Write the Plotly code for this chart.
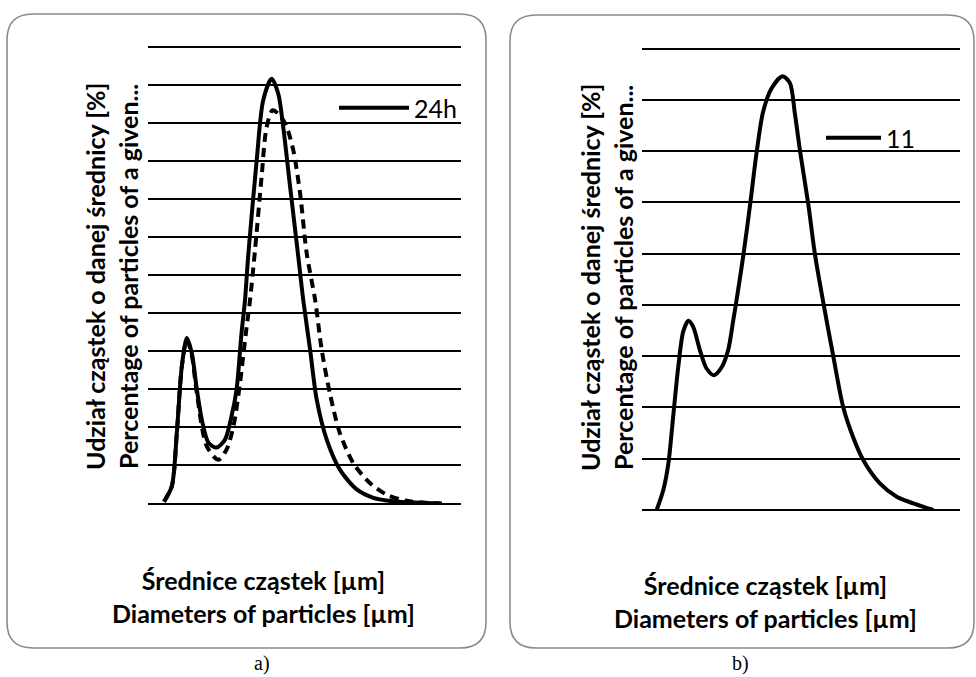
import plotly.graph_objects as go

W, H = 976, 677

# ---------------- data ----------------
# panel a) relative diameter positions (0-100 across the plot width) and percentages
a_solid_x = [5.1, 7.6, 9.2, 10.8, 12.4, 14.0, 15.6, 17.2, 19.3, 21.9, 24.6, 26.7, 28.3, 29.9,
             31.0, 32.0, 34.7, 36.8, 39.5, 41.6, 43.2, 45.4, 48.0, 49.6, 51.8, 53.9, 57.1,
             61.3, 66.7, 72.0, 78.3, 86.9, 93.9]
a_solid_y = [0.05, 0.45, 1.85, 3.6, 4.35, 3.95, 3.0, 2.2, 1.6, 1.47, 1.68, 2.3, 3.0, 4.5,
             5.35, 6.5, 9.0, 10.6, 11.17, 10.78, 9.9, 8.33, 6.5, 5.35, 4.04, 2.73, 1.68,
             0.89, 0.37, 0.15, 0.06, 0.02, 0.0]

a_dash_x = [5.1, 7.6, 9.2, 10.8, 12.4, 14.0, 15.6, 18.8, 22.5, 25.1, 27.3, 29.4, 31.3, 32.6,
            34.2, 36.3, 37.9, 39.8, 42.2, 44.3, 46.4, 48.6, 50.7, 53.4, 55.5, 58.1, 61.3,
            65.6, 70.9, 76.3, 82.7, 93.3]
a_dash_y = [0.05, 0.45, 1.85, 3.6, 4.3, 3.9, 2.9, 1.5, 1.15, 1.42, 2.03, 3.17, 4.5, 5.35,
            6.67, 8.6, 9.9, 10.34, 10.2, 9.9, 9.3, 8.15, 6.58, 5.35, 4.04, 2.9, 1.85,
            1.06, 0.54, 0.23, 0.07, 0.0]

# panel b)
b_x = [4.6, 6.7, 8.3, 9.8, 11.4, 13.0, 14.6, 16.1, 18.2, 20.3, 22.6, 25.1, 27.1, 28.7,
       30.0, 31.9, 34.0, 36.1, 38.1, 40.8, 44.2, 46.5, 48.1, 49.7, 52.3, 54.4, 57.0,
       60.2, 63.3, 66.4, 69.6, 74.8, 80.1, 85.3, 91.6]
b_y = [0.0, 0.39, 0.91, 1.82, 2.79, 3.49, 3.69, 3.57, 3.12, 2.76, 2.63, 2.79, 3.12, 3.70,
       4.2, 4.98, 5.96, 7.0, 7.77, 8.23, 8.46, 8.33, 7.72, 7.0, 5.96, 4.98, 4.05,
       2.98, 2.0, 1.42, 0.97, 0.52, 0.26, 0.13, 0.0]

a_legend = "24h"
b_legend = "11"
y_title = ["Udział cząstek o danej średnicy [%]", "Percentage of particles of a given..."]
x_title = ["Średnice cząstek [µm]", "Diameters of particles [µm]"]
captions = ["a)", "b)"]
a_ymax, b_ymax = 12, 9

# ---------------- figure ----------------
def px(x):
    return x / W

def py(y):
    return 1 - y / H

TITLE_FONT = dict(family="Lato, Open Sans, sans-serif", size=25, color="black")
LEG_FONT = dict(family="Lato, Open Sans, sans-serif", size=25, color="black")

fig = go.Figure()
line_w = 4
fig.add_trace(go.Scatter(x=a_solid_x, y=a_solid_y, mode="lines", name=a_legend,
                         line=dict(color="black", width=line_w, shape="spline", smoothing=0.8),
                         xaxis="x", yaxis="y", legend="legend"))
fig.add_trace(go.Scatter(x=a_dash_x, y=a_dash_y, mode="lines", name="48h", showlegend=False,
                         line=dict(color="black", width=line_w, dash="9px,6px",
                                   shape="spline", smoothing=0.8),
                         xaxis="x", yaxis="y"))
fig.add_trace(go.Scatter(x=b_x, y=b_y, mode="lines", name=b_legend,
                         line=dict(color="black", width=line_w, shape="spline", smoothing=0.8),
                         xaxis="x2", yaxis="y2", legend="legend2"))

grid = dict(showgrid=True, gridcolor="black", gridwidth=1.5, zeroline=True,
            zerolinecolor="black", zerolinewidth=1.5, showticklabels=False, ticks="",
            showline=False, dtick=1, tick0=0)
xax = dict(showgrid=False, zeroline=False, showticklabels=False, ticks="", showline=False,
           range=[0, 100])

EPS = 0.03
fig.update_layout(
    width=W, height=H,
    margin=dict(l=0, r=0, t=0, b=0),
    paper_bgcolor="white", plot_bgcolor="white",
    xaxis=dict(domain=[px(148), px(461)], anchor="y", **xax),
    yaxis=dict(domain=[py(503.5), py(46)], anchor="x", range=[0, a_ymax + EPS], **grid),
    xaxis2=dict(domain=[px(642), px(960)], anchor="y2", **xax),
    yaxis2=dict(domain=[py(510), py(47)], anchor="x2", range=[0, b_ymax + EPS], **grid),
    legend=dict(x=px(334), y=py(108), xanchor="left", yanchor="middle", itemwidth=70,
                bgcolor="rgba(0,0,0,0)", font=LEG_FONT, borderwidth=0),
    legend2=dict(x=px(821), y=py(138), xanchor="left", yanchor="middle", itemwidth=55,
                 bgcolor="rgba(0,0,0,0)", font=LEG_FONT, borderwidth=0),
    showlegend=True,
)

# rounded frames
def rounded_box(x0, y0, x1, y1, r):
    return (f"M {px(x0 + r)},{py(y0)} L {px(x1 - r)},{py(y0)} "
            f"Q {px(x1)},{py(y0)} {px(x1)},{py(y0 + r)} L {px(x1)},{py(y1 - r)} "
            f"Q {px(x1)},{py(y1)} {px(x1 - r)},{py(y1)} L {px(x0 + r)},{py(y1)} "
            f"Q {px(x0)},{py(y1)} {px(x0)},{py(y1 - r)} L {px(x0)},{py(y0 + r)} "
            f"Q {px(x0)},{py(y0)} {px(x0 + r)},{py(y0)} Z")

for box in [(7, 14, 486, 648), (510, 15, 974, 648)]:
    fig.add_shape(type="path", path=rounded_box(*box, 26), xref="paper", yref="paper",
                  line=dict(color="#8a8a8a", width=1.6), fillcolor="rgba(0,0,0,0)",
                  layer="below")

# axis titles (two lines each)
ytxt = "<b>" + y_title[0] + "</b><br><b>" + y_title[1] + "</b>"
xtxt = "<b>" + x_title[0] + "</b><br><b>" + x_title[1] + "</b>"
for xc, yc in [(111, 277), (606, 278)]:
    fig.add_annotation(x=px(xc), y=py(yc), xref="paper", yref="paper", text=ytxt,
                       textangle=-90, showarrow=False, font=TITLE_FONT,
                       xanchor="center", yanchor="middle")
for xc, yc in [(263, 596), (765, 601)]:
    fig.add_annotation(x=px(xc), y=py(yc), xref="paper", yref="paper", text=xtxt,
                       showarrow=False, font=TITLE_FONT, xanchor="center", yanchor="middle")

for xc, cap in zip([262, 740], captions):
    fig.add_annotation(x=px(xc), y=py(676), xref="paper", yref="paper", text=cap,
                       showarrow=False, borderpad=0,
                       font=dict(family="Liberation Serif, Times New Roman, serif", size=20,
                                 color="black"),
                       xanchor="center", yanchor="bottom")

fig.write_html("out.html")
